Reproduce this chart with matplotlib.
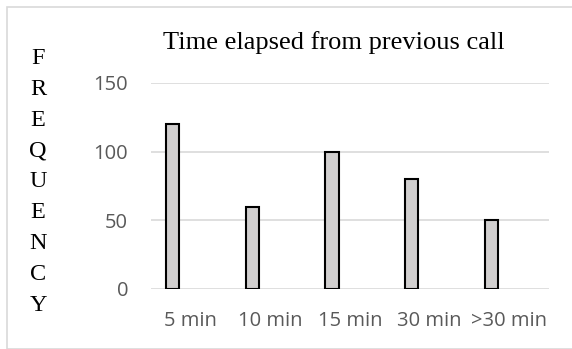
import matplotlib.pyplot as plt
import matplotlib.patches as patches
import numpy as np

categories = ['5 min', '10 min', '15 min', '30 min', '>30 min']
frequency = [120, 60, 100, 80, 50]
y_ticks = [0, 50, 100, 150]

W, H = 572, 349
fig = plt.figure(figsize=(W / 100, H / 100), dpi=100)

# Outer chart border
fig.patches.append(patches.Rectangle((7 / W, 0), 1, 1 - 7 / H, transform=fig.transFigure,
                                     fill=False, edgecolor='#d9d9d9', lw=1.2))

ax = fig.add_axes([151 / W, 1 - 289 / H, (549 - 151) / W, (289 - 83) / H])

x = np.arange(len(categories))
# bars sit left of the category centre (second empty series in the original)
ax.bar(x - 0.226, frequency, width=0.165, color='#d0cece', edgecolor='black', lw=1.5, zorder=3)

ax.set_xlim(-0.5, len(categories) - 0.5)
ax.set_ylim(0, 150)
ax.set_yticks(y_ticks)
ax.set_xticks(x)
ax.set_xticklabels(categories)
ax.yaxis.grid(True, color='#d9d9d9', lw=1.2)
ax.set_axisbelow(True)
for s in ax.spines.values():
    s.set_visible(False)
ax.tick_params(length=0, labelsize=14.5, labelcolor='#595959')
ax.tick_params(axis='y', pad=16.5)
ax.tick_params(axis='x', pad=16)
for lab in ax.get_xticklabels() + ax.get_yticklabels():
    lab.set_family('Open Sans')

fig.text(334 / W, 1 - 43 / H, 'Time elapsed from previous call', ha='center', va='center',
         family='Liberation Serif', fontsize=19)
fig.text(38 / W, 1 - 182 / H, '\n'.join('FREQUENCY'), ha='center', va='center',
         family='Liberation Serif', fontsize=17.5, linespacing=1.62)

fig.savefig('out.png', dpi=100)
